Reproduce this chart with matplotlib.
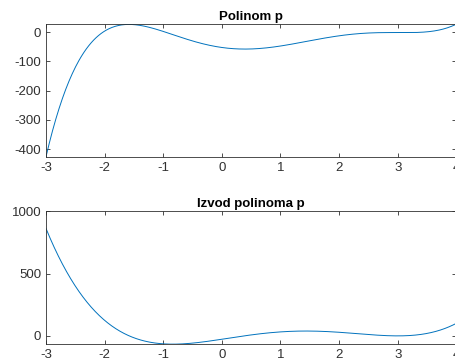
import numpy as np
import matplotlib
matplotlib.use("Agg")
import matplotlib.pyplot as plt

# polynomial p, coefficients highest power first
p_coeffs = [1, -6, 2, 36, -28, -52]
x_range = [-3, 4]
x_ticks = [-3, -2, -1, 0, 1, 2, 3, 4]
top_yticks = [-400, -300, -200, -100, 0]
bottom_yticks = [0, 500, 1000]
bottom_ymax = 1000

plt.rcParams['font.family'] = ['Liberation Sans', 'DejaVu Sans']
plt.rcParams['font.size'] = 9.5
plt.rcParams['axes.unicode_minus'] = False

line_color = '#0072BD'
axis_color = '#303030'

x = np.linspace(x_range[0], x_range[1], 500)
y = np.polyval(p_coeffs, x)
dy = np.polyval(np.polyder(p_coeffs), x)

fig = plt.figure(figsize=(4.55, 3.6), dpi=100)
ax1 = fig.add_axes([0.101, 0.564, 0.902, 0.369])
ax2 = fig.add_axes([0.101, 0.044, 0.902, 0.369])


def style(ax):
    ax.set_xticks(x_ticks)
    ax.set_xlim(x_range)
    ax.tick_params(direction='in', top=True, right=True, length=3,
                   color=axis_color, labelcolor=axis_color, width=0.6)
    for s in ax.spines.values():
        s.set_color(axis_color)
        s.set_linewidth(0.6)


ax1.plot(x, y, color=line_color, lw=0.7)
style(ax1)
ax1.set_yticks(top_yticks)
ax1.set_ylim(y.min(), y.max())
ax1.set_title('Polinom p', fontweight='bold', fontsize=9.5, pad=3)

ax2.plot(x, dy, color=line_color, lw=0.7)
style(ax2)
ax2.set_yticks(bottom_yticks)
ax2.set_ylim(dy.min(), bottom_ymax)
ax2.set_title('Izvod polinoma p', fontweight='bold', fontsize=9.5, pad=3)

fig.savefig('out.png', dpi=100)
